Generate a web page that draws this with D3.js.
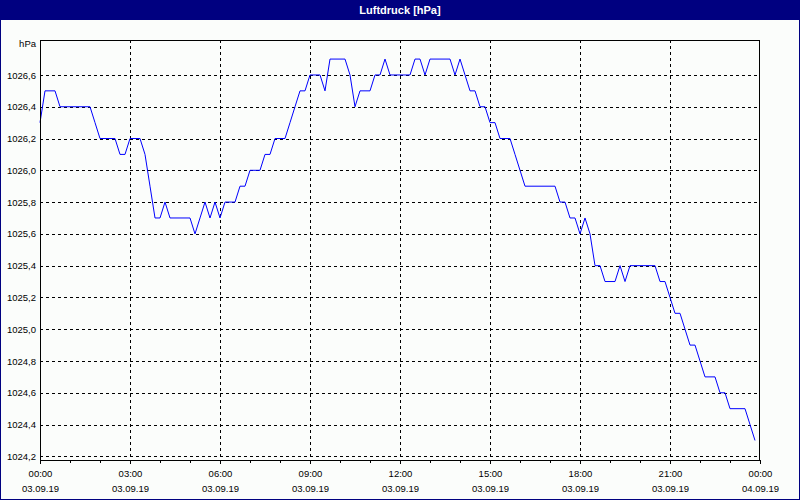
<!DOCTYPE html>
<html><head><meta charset="utf-8">
<script src="https://cdn.jsdelivr.net/npm/d3@7"></script>
<style>
html,body{margin:0;padding:0;background:#fff;}
svg{display:block;font-family:"Liberation Sans",Arial,sans-serif;}
</style></head>
<body>
<svg id="c" width="800" height="500"></svg>
<script>
// ---- data ----
const title = "Luftdruck [hPa]";
const unitLabel = "hPa";
const startTime = "2019-09-03T00:00:00";
const endTime = "2019-09-04T00:00:00";
const stepMinutes = 10;
// pressure in hPa, one reading every 10 minutes from 00:00
const pressure = [
 1026.3,1026.5,1026.5,1026.5,1026.4,1026.4,1026.4,1026.4,1026.4,1026.4,
 1026.4,1026.3,1026.2,1026.2,1026.2,1026.2,1026.1,1026.1,1026.2,1026.2,
 1026.2,1026.1,1025.9,1025.7,1025.7,1025.8,1025.7,1025.7,1025.7,1025.7,
 1025.7,1025.6,1025.7,1025.8,1025.7,1025.8,1025.7,1025.8,1025.8,1025.8,
 1025.9,1025.9,1026.0,1026.0,1026.0,1026.1,1026.1,1026.2,1026.2,1026.2,
 1026.3,1026.4,1026.5,1026.5,1026.6,1026.6,1026.6,1026.5,1026.7,1026.7,
 1026.7,1026.7,1026.6,1026.4,1026.5,1026.5,1026.5,1026.6,1026.6,1026.7,
 1026.6,1026.6,1026.6,1026.6,1026.6,1026.7,1026.7,1026.6,1026.7,1026.7,
 1026.7,1026.7,1026.7,1026.6,1026.7,1026.6,1026.5,1026.5,1026.4,1026.4,
 1026.3,1026.3,1026.2,1026.2,1026.2,1026.1,1026.0,1025.9,1025.9,1025.9,
 1025.9,1025.9,1025.9,1025.9,1025.8,1025.8,1025.7,1025.7,1025.6,1025.7,
 1025.6,1025.4,1025.4,1025.3,1025.3,1025.3,1025.4,1025.3,1025.4,1025.4,
 1025.4,1025.4,1025.4,1025.4,1025.3,1025.3,1025.2,1025.1,1025.1,1025.0,
 1024.9,1024.9,1024.8,1024.7,1024.7,1024.7,1024.6,1024.6,1024.5,1024.5,
 1024.5,1024.5,1024.4,1024.3
];
const yTicks = [1024.2,1024.4,1024.6,1024.8,1025.0,1025.2,1025.4,1025.6,1025.8,1026.0,1026.2,1026.4,1026.6];
const yDomain = [1024.177, 1026.82];

// ---- layout ----
const W = 800, H = 500;
const m = {left:40, right:760, top:40, bottom:460};
const svg = d3.select("#c");

svg.append("rect").attr("x",0).attr("y",0).attr("width",W).attr("height",H).attr("fill","#fbfdfb");
svg.append("rect").attr("x",0).attr("y",0).attr("width",W).attr("height",20).attr("fill","#000080");
svg.append("rect").attr("x",0.5).attr("y",0.5).attr("width",W-1).attr("height",H-1)
   .attr("fill","none").attr("stroke","#000080").attr("stroke-width",1);
svg.append("text").attr("x",W/2).attr("y",14).attr("text-anchor","middle")
   .attr("fill","#fff").attr("font-weight","bold").attr("font-size","11px").text(title);

const parse = d3.isoParse;
const t0 = parse(startTime), t1 = parse(endTime);
const x = d3.scaleTime().domain([t0,t1]).range([m.left,m.right]);
const y = d3.scaleLinear().domain(yDomain).range([m.bottom,m.top]);
const data = pressure.map((v,i)=>({t:new Date(t0.getTime()+i*stepMinutes*60000), v}));

const majorTicks = d3.timeHour.every(3).range(t0, new Date(t1.getTime()+1));
const minorTicks = d3.timeHour.every(1).range(t0, new Date(t1.getTime()+1));

// grid
const g = svg.append("g").attr("shape-rendering","crispEdges");
g.selectAll("line.h").data(yTicks).join("line")
  .attr("x1",m.left).attr("x2",m.right)
  .attr("y1",d=>Math.round(y(d))+0.5).attr("y2",d=>Math.round(y(d))+0.5)
  .attr("stroke","#000").attr("stroke-dasharray","3,3");
g.selectAll("line.v").data(majorTicks.slice(1,-1)).join("line")
  .attr("y1",m.top).attr("y2",m.bottom)
  .attr("x1",d=>Math.round(x(d))+0.5).attr("x2",d=>Math.round(x(d))+0.5)
  .attr("stroke","#000").attr("stroke-dasharray","3,3");

// line
const line = d3.line().x(d=>x(d.t)).y(d=>y(d.v));
svg.append("path").datum(data).attr("d",line).attr("fill","none")
   .attr("stroke","#0000ff").attr("stroke-width",1);

// frame
svg.append("rect").attr("x",m.left+0.5).attr("y",m.top+0.5)
   .attr("width",m.right-m.left-1).attr("height",m.bottom-m.top)
   .attr("fill","none").attr("stroke","#000").attr("shape-rendering","crispEdges");

// y axis labels
const yAxis = d3.axisLeft(y).tickValues(yTicks).tickSize(0).tickPadding(4)
  .tickFormat(d=>d3.format(".1f")(d).replace(".",","));
const ya = svg.append("g").attr("transform",`translate(${m.left},0)`).call(yAxis);
ya.select(".domain").remove();
ya.selectAll("text").attr("font-size","9.5px").attr("font-family","Liberation Sans, Arial, sans-serif").attr("fill","#000");
svg.append("text").attr("x",36).attr("y",m.top+7).attr("text-anchor","end")
   .attr("font-size","9.5px").attr("fill","#000").text(unitLabel);

// x axis
const xMinor = d3.axisBottom(x).tickValues(minorTicks).tickSize(3).tickFormat("");
const xm = svg.append("g").attr("transform",`translate(0,${m.bottom})`).call(xMinor);
xm.select(".domain").remove();
xm.selectAll("line").attr("shape-rendering","crispEdges");
const fT = d3.timeFormat("%H:%M"), fD = d3.timeFormat("%d.%m.%y");
const xAxis = d3.axisBottom(x).tickValues(majorTicks).tickSize(4).tickPadding(6).tickFormat("");
const xa = svg.append("g").attr("transform",`translate(0,${m.bottom})`).call(xAxis);
xa.select(".domain").attr("shape-rendering","crispEdges");
xa.selectAll("line").attr("shape-rendering","crispEdges");
const tk = xa.selectAll(".tick");
tk.append("text").attr("y",17).attr("fill","#000").attr("font-size","9.5px").text(d=>fT(d));
tk.append("text").attr("y",32).attr("fill","#000").attr("font-size","9.5px").text(d=>fD(d));
</script>
</body></html>
